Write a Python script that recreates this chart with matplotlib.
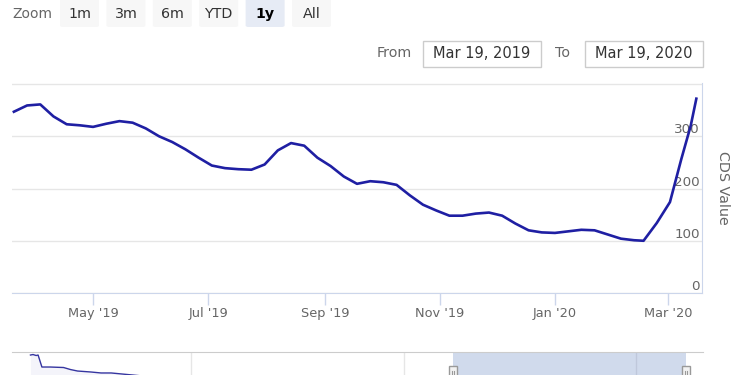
import matplotlib
matplotlib.use("Agg")
import matplotlib.pyplot as plt
import matplotlib.dates as mdates
from matplotlib.patches import FancyBboxPatch, Rectangle
import pandas as pd

# CDS readings, weekly from 20 Mar 2019, then the March 2020 spike
week_start = "2019-03-20"
weekly_cds = [347, 359, 361, 338, 323, 321, 318, 324, 329, 326,
              315, 300, 289, 275, 259, 244, 239, 237, 236, 246,
              273, 287, 282, 259, 243, 223, 209, 214, 212, 207,
              187, 169, 158, 148, 148, 152, 154, 148, 133, 120,
              116, 115, 118, 121, 120, 112, 104, 101]
tail_dates = ["2020-02-17", "2020-02-24", "2020-03-02", "2020-03-08",
              "2020-03-13", "2020-03-16"]
tail_cds = [100, 134, 174, 256, 320, 372]

# navigator (full history, only the 2017 start shows above the crop)
nav_dates = ["2017-05-24", "2017-05-28", "2017-06-02", "2017-06-05",
             "2017-06-11", "2017-06-24", "2017-07-15", "2017-07-26",
             "2017-08-06", "2017-08-27", "2017-09-12", "2017-09-28",
             "2017-10-14", "2017-11-15"]
nav_cds = [758, 768, 748, 758, 512, 512, 502, 460, 430, 410, 390, 390, 370, 330]
nav_grid = ["2018-02-01", "2019-01-01", "2020-01-01"]

range_from = "2019-03-19"
range_to = "2020-03-19"
zoom_buttons = ["1m", "3m", "6m", "YTD", "1y", "All"]
selected_button = "1y"
x_ticks = ["2019-05-01", "2019-07-01", "2019-09-01", "2019-11-01",
           "2020-01-01", "2020-03-01"]
x_labels = ["May '19", "Jul '19", "Sep '19", "Nov '19", "Jan '20", "Mar '20"]
y_ticks = [0, 100, 200, 300, 400]

dates = list(pd.date_range(week_start, periods=len(weekly_cds), freq="7D")) + list(pd.to_datetime(tail_dates))
cds = weekly_cds + tail_cds

W, H = 750, 375
LINE = "#1f1fa3"
GREY_TXT = "#666666"
AXIS_C = "#ccd6eb"
GRID_C = "#e6e6e6"

plt.rcParams["font.family"] = ["DejaVu Sans"]
fig = plt.figure(figsize=(7.5, 3.75), dpi=100)
fig.patch.set_facecolor("white")


def fx(px):
    return px / W


def fy(py):
    return 1 - py / H


# main chart
ax = fig.add_axes([fx(12), fy(293), fx(690), 210 / H])
ax.plot(dates, cds, color=LINE, lw=1.9, solid_joinstyle="round")
ax.set_xlim(pd.Timestamp(range_from), pd.Timestamp(range_to))
ax.set_ylim(0, 402)
ax.set_yticks(y_ticks)
ax.set_yticklabels([str(v) if v < 400 else "" for v in y_ticks])
ax.yaxis.tick_right()
ax.yaxis.grid(True, color=GRID_C, lw=1)
ax.set_axisbelow(True)
ax.tick_params(axis="y", length=0, pad=-1.5, labelsize=9.7, labelcolor=GREY_TXT)
for lab in ax.get_yticklabels():
    lab.set_horizontalalignment("right")
    lab.set_verticalalignment("bottom")
ax.set_xticks(pd.to_datetime(x_ticks))
ax.set_xticklabels(x_labels)
ax.tick_params(axis="x", length=8.6, width=1, color=AXIS_C, pad=1.5,
               labelsize=9.3, labelcolor=GREY_TXT)
for side in ["top", "left"]:
    ax.spines[side].set_visible(False)
ax.spines["bottom"].set_color(AXIS_C)
ax.spines["right"].set_color(AXIS_C)
ax.text(1.02, 0.5, "CDS Value", rotation=270, transform=ax.transAxes,
        ha="left", va="center", fontsize=10.3, color=GREY_TXT)

# navigator
nav = fig.add_axes([fx(12), fy(392), fx(691), 40 / H])
nav_x = pd.to_datetime(nav_dates)
nav.plot(nav_x, nav_cds, color="#3535a0", lw=1)
nav.fill_between(nav_x, nav_cds, 0, color="#3535a0", alpha=0.05, lw=0)
nav.set_xlim(pd.Timestamp("2017-04-25"), pd.Timestamp("2020-04-15"))
nav.set_ylim(0, 820)
for g in nav_grid:
    nav.axvline(pd.Timestamp(g), color=GRID_C, lw=1, zorder=0)
nav.axvspan(pd.Timestamp(range_from), pd.Timestamp(range_to),
            color=(102 / 255, 133 / 255, 194 / 255, 0.3), lw=0)
nav.set_xticks([])
nav.set_yticks([])
for side in ["left", "right", "bottom"]:
    nav.spines[side].set_visible(False)
nav.spines["top"].set_color("#cccccc")

fig.canvas.draw()
for d in [range_from, range_to]:
    xpix = nav.transData.transform((mdates.date2num(pd.Timestamp(d)), 0))[0]
    hx = xpix / fig.dpi / 7.5
    fig.add_artist(Rectangle((hx - fx(4), fy(381)), fx(8), 15 / H,
                             transform=fig.transFigure, facecolor="#f2f2f2",
                             edgecolor="#999999", lw=1))
    for off in (-1.2, 1.2):
        fig.add_artist(plt.Line2D([hx + fx(off), hx + fx(off)], [fy(378), fy(371)],
                                  transform=fig.transFigure, color="#999999", lw=0.8))

# range selector buttons
fig.text(fx(12), fy(14), "Zoom", ha="left", va="center", fontsize=10, color=GREY_TXT)
for i, name in enumerate(zoom_buttons):
    left = 60 + i * 46.4
    sel = name == selected_button
    fig.add_artist(FancyBboxPatch((fx(left), fy(27)), fx(39), 29 / H,
                                  boxstyle="round,pad=0,rounding_size=0.004",
                                  transform=fig.transFigure,
                                  facecolor="#e6ebf5" if sel else "#f7f7f7",
                                  edgecolor="none"))
    fig.text(fx(left + 19.5), fy(14), name, ha="center", va="center",
             fontsize=10.3, color="#000000" if sel else "#333333",
             fontweight="bold" if sel else "normal")

# from / to inputs
fig.text(fx(377), fy(53), "From", ha="left", va="center", fontsize=10.3, color=GREY_TXT)
fig.text(fx(555), fy(53), "To", ha="left", va="center", fontsize=10.3, color=GREY_TXT)
for left, d in [(423, range_from), (585, range_to)]:
    fig.add_artist(Rectangle((fx(left), fy(67)), fx(118), 26 / H,
                             transform=fig.transFigure, facecolor="white",
                             edgecolor="#cccccc", lw=1))
    label = pd.Timestamp(d).strftime("%b %d, %Y").replace(" 0", " ")
    fig.text(fx(left + 59), fy(54), label, ha="center", va="center",
             fontsize=10.5, color="#333333")

fig.savefig("out.png", dpi=100, facecolor="white")
